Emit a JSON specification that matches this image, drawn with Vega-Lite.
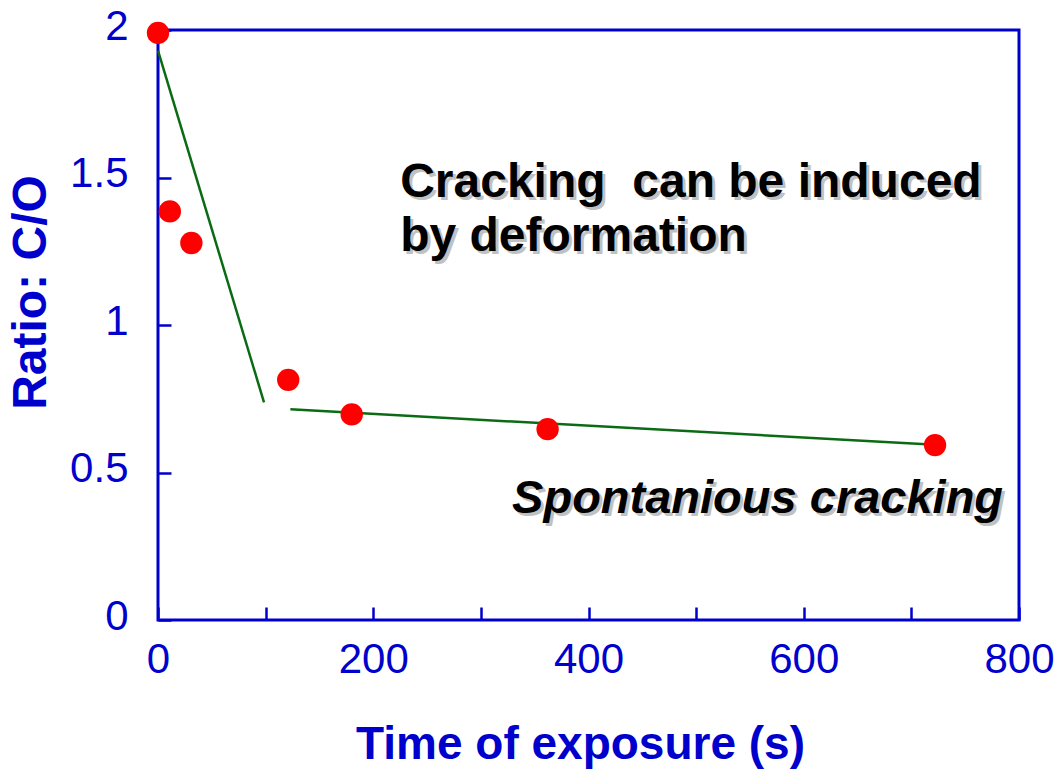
{
  "$schema": "https://vega.github.io/schema/vega-lite/v6.json",
  "autosize": "none",
  "width": 861,
  "height": 590,
  "padding": {"left": 158, "top": 30, "right": 39, "bottom": 150},
  "background": "white",
  "config": {
    "view": {"stroke": "#0000CC", "strokeWidth": 3},
    "font": "Liberation Sans",
    "axis": {
      "domain": false,
      "grid": false,
      "tickColor": "#0000CC",
      "tickWidth": 2.5,
      "tickSize": -13,
      "labelColor": "#0000CC",
      "labelFont": "Liberation Sans",
      "labelFontSize": 42,
      "titleColor": "#0000CC",
      "titleFont": "Liberation Sans",
      "titleFontWeight": "bold",
      "titleFontSize": 46
    }
  },
  "datasets": {
    "pts": [
      {"t": 0, "r": 1.99},
      {"t": 11, "r": 1.385},
      {"t": 31, "r": 1.278},
      {"t": 121, "r": 0.814},
      {"t": 180, "r": 0.697},
      {"t": 362, "r": 0.647},
      {"t": 722, "r": 0.593}
    ],
    "fit": [
      {"seg": "a", "t": 0, "r": 1.93},
      {"seg": "a", "t": 98.5, "r": 0.738},
      {"seg": "b", "t": 123, "r": 0.714},
      {"seg": "b", "t": 718, "r": 0.595}
    ],
    "notes": [
      {"t": 225, "r": 1.434, "txt": "Cracking \u00a0can be induced", "style": "normal"},
      {"t": 225, "r": 1.251, "txt": "by deformation", "style": "normal"},
      {"t": 329, "r": 0.363, "txt": "Spontanious cracking", "style": "italic"}
    ]
  },
  "layer": [
    {
      "data": {"name": "fit"},
      "mark": {"type": "line", "color": "#0b6b14", "strokeWidth": 2.5},
      "encoding": {
        "x": {
          "field": "t", "type": "quantitative",
          "scale": {"domain": [0, 800], "nice": false},
          "axis": {
            "values": [0, 100, 200, 300, 400, 500, 600, 700, 800],
            "labelExpr": "datum.value % 200 == 0 ? datum.label : ''",
            "labelPadding": 32,
            "labelFlush": false,
            "titlePadding": 42,
            "titleX": 422,
            "title": "Time of exposure (s)"
          }
        },
        "y": {
          "field": "r", "type": "quantitative",
          "scale": {"domain": [0, 2], "nice": false},
          "axis": {
            "values": [0, 0.5, 1, 1.5, 2],
            "format": ".1~f",
            "labelPadding": 43,
            "labelOffset": -4,
            "labelFlush": false,
            "titlePadding": 14,
            "titleY": 262,
            "titleFontSize": 48,
            "title": "Ratio: C/O"
          }
        },
        "detail": {"field": "seg"}
      }
    },
    {
      "data": {"name": "pts"},
      "mark": {"type": "circle", "color": "#FF0000", "opacity": 1, "size": 500},
      "encoding": {
        "x": {"field": "t", "type": "quantitative"},
        "y": {"field": "r", "type": "quantitative"}
      }
    },
    {
      "data": {"name": "notes"},
      "transform": [{"filter": "datum.style == 'normal'"}],
      "layer": [
        {
          "mark": {"type": "text", "align": "left", "baseline": "alphabetic", "fontSize": 48, "fontWeight": "bold", "color": "#999999", "opacity": 0.6, "dx": 3, "dy": 3},
          "encoding": {
            "x": {"field": "t", "type": "quantitative"},
            "y": {"field": "r", "type": "quantitative"},
            "text": {"field": "txt"}
          }
        },
        {
          "mark": {"type": "text", "align": "left", "baseline": "alphabetic", "fontSize": 48, "fontWeight": "bold", "color": "#000000"},
          "encoding": {
            "x": {"field": "t", "type": "quantitative"},
            "y": {"field": "r", "type": "quantitative"},
            "text": {"field": "txt"}
          }
        }
      ]
    },
    {
      "data": {"name": "notes"},
      "transform": [{"filter": "datum.style == 'italic'"}],
      "layer": [
        {
          "mark": {"type": "text", "align": "left", "baseline": "alphabetic", "fontSize": 47, "fontWeight": "bold", "fontStyle": "italic", "color": "#999999", "opacity": 0.6, "dx": 3, "dy": 3},
          "encoding": {
            "x": {"field": "t", "type": "quantitative"},
            "y": {"field": "r", "type": "quantitative"},
            "text": {"field": "txt"}
          }
        },
        {
          "mark": {"type": "text", "align": "left", "baseline": "alphabetic", "fontSize": 47, "fontWeight": "bold", "fontStyle": "italic", "color": "#000000"},
          "encoding": {
            "x": {"field": "t", "type": "quantitative"},
            "y": {"field": "r", "type": "quantitative"},
            "text": {"field": "txt"}
          }
        }
      ]
    }
  ]
}
